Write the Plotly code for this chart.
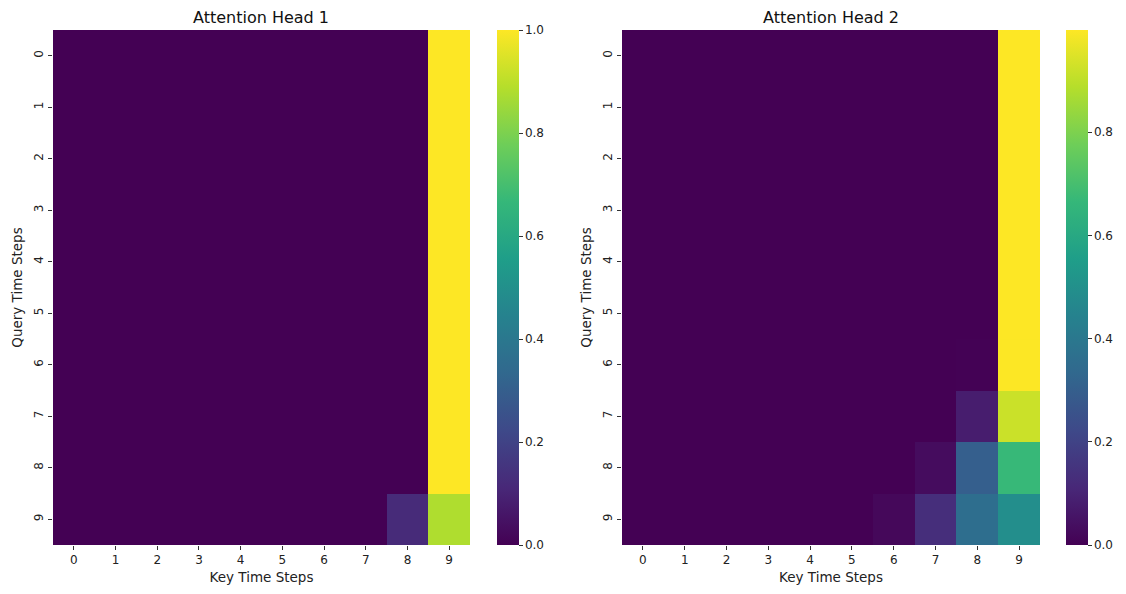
import numpy as np
import plotly.graph_objects as go

keys = list(range(10))
queries = list(range(10))
tick_labels = [str(i) for i in range(10)]

# Attention head 1: rows sum to 1
head1_last_col = [1.0, 1.0, 1.0, 1.0, 1.0, 1.0, 1.0, 1.0, 1.0, 0.88]
head1_col8 = [0.0, 0.0, 0.0, 0.0, 0.0, 0.0, 0.0, 0.0, 0.0, 0.12]

# Attention head 2
head2_col9 = [0.998, 0.998, 0.998, 0.998, 0.998, 0.998, 0.997, 0.92, 0.67, 0.49]
head2_col8 = [0.0, 0.0, 0.0, 0.0, 0.0, 0.0, 0.002, 0.08, 0.30, 0.36]
head2_col7 = [0.0, 0.0, 0.0, 0.0, 0.0, 0.0, 0.0, 0.0, 0.03, 0.13]
head2_col6 = [0.0, 0.0, 0.0, 0.0, 0.0, 0.0, 0.0, 0.0, 0.0, 0.02]

def build(cols):
    m = np.zeros((10, 10))
    for c, vals in cols.items():
        m[:, c] = vals
    return m

z1 = build({8: head1_col8, 9: head1_last_col})
z2 = build({6: head2_col6, 7: head2_col7, 8: head2_col8, 9: head2_col9})

OFF = 8  # page body margin
W, H = 1126 - OFF, 594 - OFF
fig = go.Figure()

font = "DejaVu Sans"
y0 = 1 - (545 - OFF) / H
y1 = 1 - (30 - OFF) / H

panels = [
    (z1, 53, 470, 497, "Attention Head 1", [0, 0.2, 0.4, 0.6, 0.8, 1.0]),
    (z2, 622, 1040, 1066, "Attention Head 2", [0, 0.2, 0.4, 0.6, 0.8]),
]

for i, (z, xl, xr, cbx, title, cticks) in enumerate(panels):
    xl, xr, cbx = xl - OFF, xr - OFF, cbx - OFF
    sfx = "" if i == 0 else str(i + 1)
    fig.add_trace(go.Heatmap(
        z=z, x=keys, y=queries,
        colorscale="Viridis",
        zmin=float(z.min()), zmax=float(z.max()),
        xaxis="x" + sfx, yaxis="y" + sfx,
        xgap=0, ygap=0,
        colorbar=dict(
            x=cbx / W, xanchor="left", y=y0, yanchor="bottom",
            len=(y1 - y0), lenmode="fraction", thickness=22,
            xpad=0, ypad=0,
            outlinewidth=0, tickvals=cticks,
            ticktext=[f"{t:.1f}" for t in cticks],
            ticks="outside", ticklen=4, tickcolor="#333",
            tickfont=dict(family=font, size=12, color="#222"),
        ),
        hovertemplate="key %{x}<br>query %{y}<br>%{z:.3f}<extra></extra>",
    ))
    fig.layout["xaxis" + sfx] = dict(
        domain=[xl / W, xr / W], anchor="y" + sfx, automargin=False,
        tickvals=keys, ticktext=tick_labels, tickangle=0,
        ticks="outside", ticklen=4, tickcolor="#333", showgrid=False, zeroline=False,
        tickfont=dict(family=font, size=12, color="#222"),
        title=dict(text="Key Time Steps", font=dict(family=font, size=13.5, color="#222"), standoff=6),
        range=[-0.5, 9.5], showline=False,
    )
    fig.layout["yaxis" + sfx] = dict(
        domain=[y0, y1], anchor="x" + sfx, automargin=False,
        tickvals=queries, ticktext=tick_labels, tickangle=-90,
        ticks="outside", ticklen=4, tickcolor="#333", showgrid=False, zeroline=False,
        tickfont=dict(family=font, size=12, color="#222"),
        title=dict(text="Query Time Steps", font=dict(family=font, size=13.5, color="#222"), standoff=6),
        range=[9.5, -0.5], showline=False,
    )
    fig.add_annotation(
        text=title, x=(xl + xr) / 2 / W, y=1.0, xref="paper", yref="paper",
        showarrow=False, font=dict(family=font, size=16, color="#111"),
        xanchor="center", yanchor="top", yshift=2,
    )

fig.update_layout(
    width=W, height=H,
    margin=dict(l=0, r=0, t=0, b=0, autoexpand=False),
    paper_bgcolor="white", plot_bgcolor="white",
    showlegend=False,
)

fig.write_html("out.html")
